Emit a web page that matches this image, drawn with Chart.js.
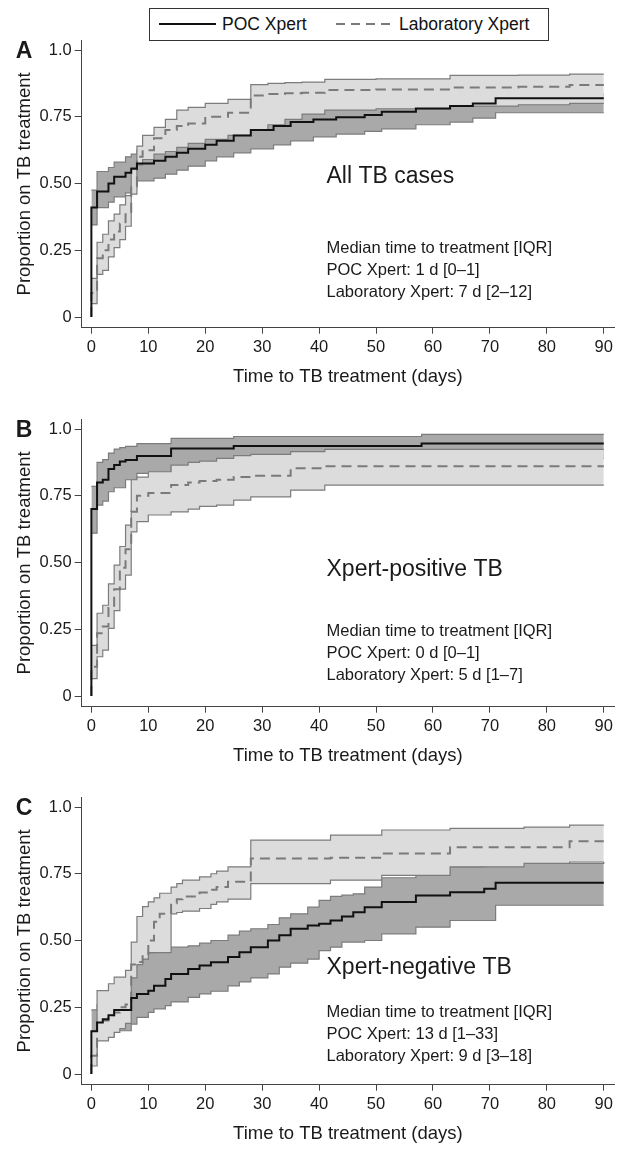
<!DOCTYPE html>
<html>
<head>
<meta charset="utf-8">
<script src="https://cdn.jsdelivr.net/npm/chart.js@4.4.1/dist/chart.umd.min.js"></script>
<style>
  body { margin: 0; background: #fff; width: 617px; height: 1150px; position: relative; overflow: hidden;
         font-family: "Liberation Sans", Arial, sans-serif; }
  canvas { position: absolute; left: 0; }
  #legend { position: absolute; left: 149px; top: 8px; width: 398px; height: 31px; border: 1px solid #333;
            background: #fff; z-index: 5; font-size: 17.5px; color: #111; }
  #legend span { position: absolute; top: 0; line-height: 30px; white-space: nowrap; }
</style>
</head>
<body>
<div id="legend">
  <svg width="398" height="31" style="position:absolute;left:0;top:0">
    <line x1="9" y1="15" x2="66" y2="15" stroke="#111" stroke-width="2"></line>
    <line x1="186" y1="15" x2="240" y2="15" stroke="#7a7a7a" stroke-width="2" stroke-dasharray="9,6"></line>
  </svg>
  <span style="left:72px">POC Xpert</span>
  <span style="left:249px">Laboratory Xpert</span>
</div>
<canvas id="panelA" width="617" height="393" style="top:0px"></canvas>
<canvas id="panelB" width="617" height="393" style="top:379px"></canvas>
<canvas id="panelC" width="617" height="393" style="top:757px"></canvas>
<script>
// axes
const xTicks = [0, 10, 20, 30, 40, 50, 60, 70, 80, 90];
const yTicks = [0, 0.25, 0.5, 0.75, 1];
const yTickLabels = ['0', '0.25', '0.50', '0.75', '1.0'];

// A - all TB cases
const aPocDays = [0, 1, 3, 4, 6, 7, 8, 11, 13, 15, 17, 20, 22, 25, 28, 32, 35, 39, 43, 48, 51, 57, 63, 67, 71, 90];
const aPocEst = [0.41, 0.47, 0.50, 0.525, 0.54, 0.555, 0.575, 0.585, 0.60, 0.615, 0.63, 0.645, 0.66, 0.68, 0.70, 0.715, 0.73, 0.74, 0.748, 0.757, 0.769, 0.781, 0.79, 0.80, 0.819, 0.819];
const aPocLo = [0.345, 0.41, 0.43, 0.45, 0.465, 0.49, 0.51, 0.52, 0.535, 0.55, 0.565, 0.585, 0.60, 0.615, 0.63, 0.645, 0.66, 0.675, 0.685, 0.695, 0.705, 0.72, 0.73, 0.745, 0.765, 0.765];
const aPocHi = [0.475, 0.545, 0.56, 0.58, 0.60, 0.61, 0.625, 0.635, 0.645, 0.66, 0.67, 0.685, 0.70, 0.715, 0.735, 0.75, 0.765, 0.78, 0.785, 0.795, 0.80, 0.81, 0.815, 0.82, 0.835, 0.835];
const aLabDays = [0, 1, 2, 3, 4, 5, 6, 7, 8, 9, 11, 13, 15, 17, 20, 24, 28, 31, 34, 37, 41, 50, 63, 75, 84, 90];
const aLabEst = [0.09, 0.22, 0.25, 0.29, 0.32, 0.35, 0.385, 0.49, 0.60, 0.625, 0.67, 0.70, 0.715, 0.725, 0.75, 0.765, 0.83, 0.835, 0.838, 0.84, 0.85, 0.852, 0.86, 0.862, 0.869, 0.869];
const aLabLo = [0.05, 0.16, 0.175, 0.225, 0.26, 0.29, 0.34, 0.46, 0.57, 0.59, 0.61, 0.62, 0.635, 0.65, 0.665, 0.68, 0.70, 0.72, 0.74, 0.76, 0.775, 0.78, 0.79, 0.795, 0.80, 0.80];
const aLabHi = [0.145, 0.28, 0.31, 0.36, 0.385, 0.42, 0.455, 0.56, 0.64, 0.68, 0.71, 0.74, 0.775, 0.785, 0.80, 0.815, 0.87, 0.875, 0.878, 0.88, 0.89, 0.892, 0.905, 0.906, 0.91, 0.91];

// B - Xpert-positive TB
const bPocDays = [0, 1, 2, 3, 4, 5, 6, 8, 14, 25, 58, 90];
const bPocEst = [0.70, 0.80, 0.81, 0.85, 0.865, 0.878, 0.884, 0.899, 0.927, 0.936, 0.946, 0.946];
const bPocLo = [0.61, 0.715, 0.73, 0.765, 0.78, 0.78, 0.81, 0.834, 0.86, 0.88, 0.89, 0.89];
const bPocHi = [0.785, 0.875, 0.885, 0.91, 0.925, 0.93, 0.935, 0.945, 0.965, 0.972, 0.98, 0.98];
const bLabDays = [0, 1, 2, 3, 4, 5, 6, 7, 8, 10, 14, 17, 19, 22, 25, 28, 35, 41, 90];
const bLabEst = [0.11, 0.235, 0.26, 0.33, 0.40, 0.48, 0.55, 0.69, 0.75, 0.76, 0.79, 0.80, 0.805, 0.81, 0.82, 0.825, 0.853, 0.861, 0.861];
const bLabLo = [0.065, 0.147, 0.172, 0.253, 0.32, 0.40, 0.453, 0.615, 0.653, 0.678, 0.69, 0.70, 0.71, 0.715, 0.734, 0.746, 0.771, 0.79, 0.79];
const bLabHi = [0.19, 0.31, 0.34, 0.42, 0.49, 0.56, 0.64, 0.81, 0.82, 0.84, 0.865, 0.875, 0.88, 0.89, 0.90, 0.905, 0.915, 0.924, 0.924];

// C - Xpert-negative TB
const cPocDays = [0, 1, 2, 3, 4, 7, 8, 10, 11, 13, 14, 17, 19, 21, 24, 26, 28, 31, 33, 35, 38, 40, 42, 44, 46, 48, 51, 57, 63, 69, 71, 90];
const cPocEst = [0.16, 0.193, 0.205, 0.22, 0.24, 0.285, 0.30, 0.312, 0.331, 0.356, 0.375, 0.393, 0.406, 0.419, 0.438, 0.456, 0.475, 0.50, 0.52, 0.544, 0.556, 0.563, 0.575, 0.59, 0.606, 0.625, 0.644, 0.669, 0.681, 0.694, 0.716, 0.716];
const cPocLo = [0.07, 0.13, 0.13, 0.143, 0.162, 0.187, 0.212, 0.231, 0.244, 0.256, 0.27, 0.287, 0.30, 0.31, 0.33, 0.345, 0.36, 0.375, 0.40, 0.415, 0.43, 0.462, 0.475, 0.494, 0.494, 0.50, 0.525, 0.55, 0.575, 0.575, 0.632, 0.632];
const cPocHi = [0.24, 0.26, 0.27, 0.28, 0.30, 0.40, 0.43, 0.455, 0.46, 0.47, 0.475, 0.48, 0.49, 0.50, 0.52, 0.535, 0.544, 0.56, 0.585, 0.60, 0.625, 0.65, 0.665, 0.67, 0.675, 0.70, 0.735, 0.75, 0.776, 0.785, 0.789, 0.794];
const cLabDays = [0, 1, 3, 4, 5, 6, 7, 8, 9, 10, 11, 12, 14, 15, 16, 19, 21, 22, 24, 28, 42, 51, 63, 76, 84, 90];
const cLabEst = [0.068, 0.20, 0.22, 0.23, 0.25, 0.26, 0.41, 0.42, 0.45, 0.50, 0.57, 0.60, 0.64, 0.655, 0.665, 0.68, 0.69, 0.70, 0.72, 0.807, 0.81, 0.826, 0.849, 0.849, 0.872, 0.872];
const cLabLo = [0.03, 0.124, 0.137, 0.156, 0.17, 0.19, 0.36, 0.41, 0.43, 0.455, 0.455, 0.455, 0.60, 0.605, 0.61, 0.62, 0.635, 0.645, 0.655, 0.713, 0.726, 0.744, 0.776, 0.789, 0.794, 0.794];
const cLabHi = [0.16, 0.312, 0.338, 0.363, 0.363, 0.388, 0.494, 0.59, 0.627, 0.645, 0.66, 0.677, 0.70, 0.713, 0.726, 0.738, 0.75, 0.76, 0.776, 0.876, 0.895, 0.914, 0.92, 0.925, 0.932, 0.932];

const FONT = '"Liberation Sans", Arial, sans-serif';
const axisColor = '#444';
const textColor = '#1a1a1a';
const edgeColor = '#7c7c7c';
const darkBand = '#a9a9a9';
const lightBand = '#dcdcdc';

Chart.defaults.font.family = FONT;

// panel letter, subgroup title and median text
const annotate = {
  id: 'annotate',
  afterDraw(chart, args, opts) {
    const { ctx } = chart;
    const x = chart.scales.x, y = chart.scales.y;
    ctx.save();
    ctx.fillStyle = textColor;
    ctx.textBaseline = 'middle';
    ctx.textAlign = 'center';
    ctx.font = 'bold 23px ' + FONT;
    ctx.fillText(opts.letter, 24, y.getPixelForValue(1) + 2);
    ctx.textAlign = 'left';
    const tx = x.getPixelForValue(41.3);
    ctx.font = '23px ' + FONT;
    ctx.fillText(opts.title, tx, y.getPixelForValue(opts.titleY));
    ctx.font = '16.5px ' + FONT;
    const y0 = y.getPixelForValue(opts.medianY);
    opts.lines.forEach((t, i) => ctx.fillText(t, tx, y0 + i * 21.7));
    ctx.restore();
  }
};

function pts(days, vals, fromZero) {
  const p = days.map((d, i) => ({ x: d, y: vals[i] }));
  return fromZero ? [{ x: 0, y: 0 }].concat(p) : p;  // KM curve starts at 0
}

function makePanel(id, g, note) {
  const datasets = [
    { data: pts(g.pocDays, g.pocEst, true), borderColor: '#111', borderWidth: 2, fill: false },
    { data: pts(g.labDays, g.labEst, true), borderColor: '#7a7a7a', borderWidth: 2, borderDash: [10, 6], fill: false },
    { data: pts(g.labDays, g.labLo), borderColor: edgeColor, borderWidth: 1.2, fill: false },
    { data: pts(g.labDays, g.labHi), borderColor: edgeColor, borderWidth: 1.2, fill: '-1', backgroundColor: lightBand },
    { data: pts(g.pocDays, g.pocLo), borderColor: edgeColor, borderWidth: 1.2, fill: false },
    { data: pts(g.pocDays, g.pocHi), borderColor: edgeColor, borderWidth: 1.2, fill: '-1', backgroundColor: darkBand }
  ];
  datasets.forEach(d => { d.stepped = true; d.pointRadius = 0; });

  new Chart(document.getElementById(id), {
    type: 'line',
    data: { datasets },
    options: {
      responsive: false,
      animation: false,
      devicePixelRatio: 1,
      layout: { padding: { top: 40, right: 2, bottom: 0, left: 0 } },
      plugins: {
        legend: { display: false },
        tooltip: { enabled: false },
        filler: { drawTime: 'beforeDatasetDraw' },
        annotate: note
      },
      scales: {
        x: {
          type: 'linear', min: -1.7, max: 91.8,
          afterBuildTicks: s => { s.ticks = xTicks.map(v => ({ value: v })); },
          afterFit: s => { s.height = 65.3; },
          ticks: { font: { size: 16.5 }, color: textColor, padding: 4, autoSkip: false, maxRotation: 0 },
          grid: { drawOnChartArea: false, drawTicks: true, tickLength: 6, color: axisColor },
          border: { display: true, color: axisColor, width: 1 },
          title: { display: true, text: 'Time to TB treatment (days)', color: textColor,
                   font: { size: 18.5 }, padding: { top: 0, bottom: 5 } }
        },
        y: {
          type: 'linear', min: -0.04, max: 1.0375,
          afterBuildTicks: s => { s.ticks = yTicks.map(v => ({ value: v })); },
          afterFit: s => { s.width = 81.7; },
          ticks: { font: { size: 16.5 }, color: textColor, padding: 3,
                   callback: v => yTickLabels[yTicks.indexOf(v)] },
          grid: { drawOnChartArea: false, drawTicks: true, tickLength: 7, color: axisColor },
          border: { display: true, color: axisColor, width: 1 },
          title: { display: true, text: 'Proportion on TB treatment', color: textColor,
                   font: { size: 18.5 }, padding: { top: 14, bottom: 0 } }
        }
      }
    },
    plugins: [annotate]
  });
}

const medianHead = 'Median time to treatment [IQR]';

makePanel('panelA',
  { pocDays: aPocDays, pocEst: aPocEst, pocLo: aPocLo, pocHi: aPocHi,
    labDays: aLabDays, labEst: aLabEst, labLo: aLabLo, labHi: aLabHi },
  { letter: 'A', title: 'All TB cases', titleY: 0.524, medianY: 0.255,
    lines: [medianHead, 'POC Xpert: 1 d [0\u20131]', 'Laboratory Xpert: 7 d [2\u201312]'] });

makePanel('panelB',
  { pocDays: bPocDays, pocEst: bPocEst, pocLo: bPocLo, pocHi: bPocHi,
    labDays: bLabDays, labEst: bLabEst, labLo: bLabLo, labHi: bLabHi },
  { letter: 'B', title: 'Xpert-positive TB', titleY: 0.472, medianY: 0.24,
    lines: [medianHead, 'POC Xpert: 0 d [0\u20131]', 'Laboratory Xpert: 5 d [1\u20137]'] });

makePanel('panelC',
  { pocDays: cPocDays, pocEst: cPocEst, pocLo: cPocLo, pocHi: cPocHi,
    labDays: cLabDays, labEst: cLabEst, labLo: cLabLo, labHi: cLabHi },
  { letter: 'C', title: 'Xpert-negative TB', titleY: 0.398, medianY: 0.229,
    lines: [medianHead, 'POC Xpert: 13 d [1\u201333]', 'Laboratory Xpert: 9 d [3\u201318]'] });
</script>
</body>
</html>
